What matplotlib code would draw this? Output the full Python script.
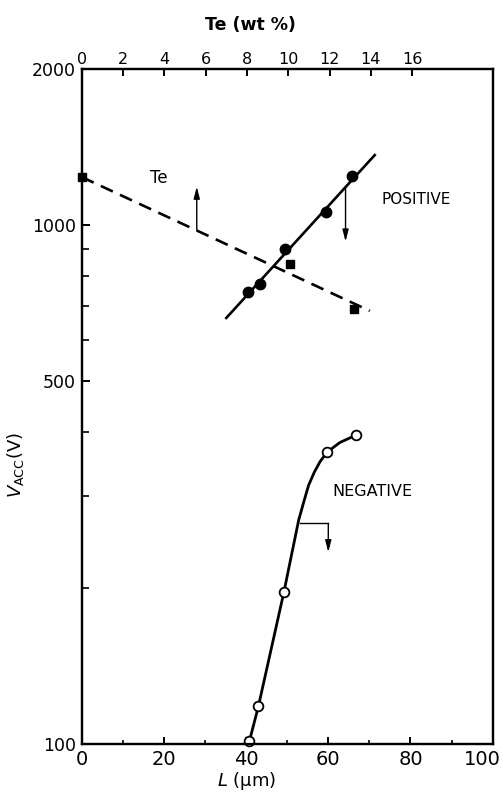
import matplotlib
matplotlib.use("Agg")
import matplotlib.pyplot as plt
from matplotlib.ticker import FixedLocator, NullFormatter, FixedFormatter
from matplotlib.transforms import ScaledTranslation

plt.rcParams['font.family'] = ['DejaVu Sans']

# ---- data ----
pos_L = [40.5, 43.5, 49.5, 59.5, 65.8]
pos_V = [745, 771, 899, 1062, 1245]
pos_fit_L = [35.2, 71.3]
pos_fit_V = [663, 1367]

te_wt = [0, 10.1, 13.2]
te_V = [1240, 843, 690]
te_fit_wt = [0, 13.95]
te_fit_V = [1240, 684]

neg_L = [40.8, 43.0, 49.2, 59.7, 66.8]
neg_V = [101, 118, 196, 365, 394]
neg_curve_L = [40.8, 43.0, 49.2, 52.8, 54.0, 55.2, 56.6, 58.0, 59.7, 62.8, 66.8]
neg_curve_V = [101, 118, 196, 270, 292, 315, 334, 350, 365, 381, 394]

x_ticks = [0, 20, 40, 60, 80, 100]
x_minor = [10, 30, 50, 70, 90]
y_ticks = [100, 500, 1000, 2000]
y_minor = [200, 300, 400, 600, 700, 800, 900]
te_ticks = [0, 2, 4, 6, 8, 10, 12, 14, 16]

fig = plt.figure(figsize=(5.03, 7.94), dpi=100)
ax = fig.add_axes([0.1624, 0.0636, 0.8171, 0.8489])
ax.set_yscale('log')
ax.set_xlim(0, 100)
ax.set_ylim(100, 2000)

for s in ax.spines.values():
    s.set_linewidth(1.6)

ax.xaxis.set_major_locator(FixedLocator(x_ticks))
ax.xaxis.set_minor_locator(FixedLocator(x_minor))
ax.xaxis.set_minor_formatter(NullFormatter())
ax.set_xticklabels([str(t) for t in x_ticks])
ax.yaxis.set_major_locator(FixedLocator(y_ticks))
ax.yaxis.set_major_formatter(FixedFormatter([str(t) for t in y_ticks]))
ax.yaxis.set_minor_locator(FixedLocator(y_minor))
ax.yaxis.set_minor_formatter(NullFormatter())

ax.tick_params(axis='x', which='major', direction='in', length=5, width=1.4,
               labelsize=14, pad=5, top=False)
ax.tick_params(axis='x', which='minor', direction='in', length=3, width=1.2, top=False)
ax.tick_params(axis='y', which='major', direction='in', length=6, width=1.4,
               labelsize=12.5, pad=4, right=False)
ax.tick_params(axis='y', which='minor', direction='in', length=5, width=1.2, right=False)

# shift the last bottom label slightly left so it stays inside the figure
last = ax.get_xticklabels()[-1]
last.set_transform(last.get_transform() + ScaledTranslation(-10 / 100, 0, fig.dpi_scale_trans))

ax.set_xlabel(r'$L$ (μm)', fontsize=13)
ax.xaxis.set_label_coords(0.402, -0.040)
ax.set_ylabel(r'$V_{\rm ACC}$(V)', fontsize=13)
ax.yaxis.set_label_coords(-0.135, 0.413)

# positive
ax.plot(pos_fit_L, pos_fit_V, color='black', lw=1.9)
ax.plot(pos_L, pos_V, 'o', color='black', ms=7.5, zorder=5)

# negative
ax.plot(neg_curve_L, neg_curve_V, color='black', lw=2.0, clip_on=False)
ax.plot(neg_L, neg_V, 'o', mfc='white', mec='black', mew=1.3, ms=7, zorder=5,
        clip_on=False)

# top Te axis
ax2 = ax.twiny()
ax2.set_xlim(0, 19.9)
ax2.xaxis.set_major_locator(FixedLocator(te_ticks))
ax2.set_xticklabels([str(t) for t in te_ticks])
ax2.tick_params(axis='x', direction='in', length=5, width=1.4, labelsize=11.5, pad=2)
ax2.set_xlabel('Te (wt %)', fontsize=12.5, fontweight='bold')
ax2.xaxis.set_label_coords(0.41, 1.058)
for s in ax2.spines.values():
    s.set_linewidth(1.6)
ax2.plot(te_fit_wt, te_fit_V, color='black', lw=1.9, dashes=(5, 3))
ax2.plot(te_wt, te_V, 's', color='black', ms=6, zorder=5, clip_on=False)

# arrows
aprops = dict(arrowstyle='-|>,head_length=0.7,head_width=0.18', color='black',
              lw=1.0, shrinkA=0, shrinkB=0)
ax.annotate('', xy=(28.0, 1188), xytext=(28.0, 980), arrowprops=aprops)
ax.annotate('', xy=(64.2, 931), xytext=(64.2, 1180), arrowprops=aprops)
ax.plot([53.1, 60.0], [266, 266], color='black', lw=1.0)
ax.annotate('', xy=(60.0, 234), xytext=(60.0, 266), arrowprops=aprops)

# labels
ax.text(18.8, 1237, 'Te', fontsize=12, ha='center', va='center')
ax.text(72.9, 1120, 'POSITIVE', fontsize=11, ha='left', va='center')
ax.text(61.1, 306, 'NEGATIVE', fontsize=11.5, ha='left', va='center')

fig.savefig('out.png', dpi=100)
